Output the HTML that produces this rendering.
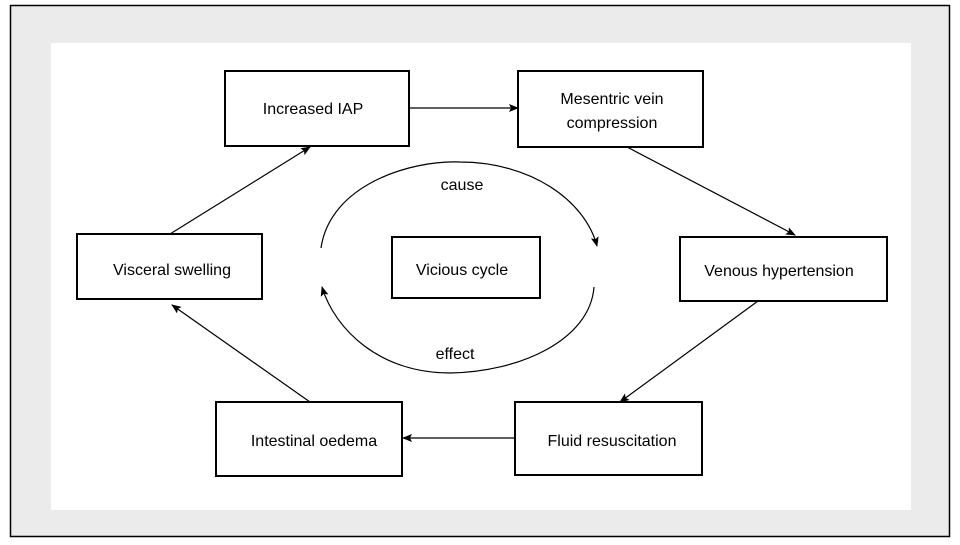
<!DOCTYPE html>
<html><head><style>
html,body{margin:0;padding:0;background:#fff;}
body{width:960px;height:540px;position:relative;overflow:hidden;font-family:"Liberation Sans",sans-serif;}
</style></head><body>
<svg width="960" height="540" viewBox="0 0 960 540" xmlns="http://www.w3.org/2000/svg">
<defs><marker id="a" markerWidth="10" markerHeight="8" refX="9" refY="4" orient="auto" markerUnits="userSpaceOnUse"><path d="M0,0 L10,4 L0,8 L2,4 z" fill="#000"/></marker></defs>
<rect x="10.5" y="5.5" width="939" height="531" fill="#ebebeb" stroke="#000" stroke-width="1.5"/>
<rect x="51" y="43" width="860" height="467" fill="#fff"/>
<g fill="#fff" stroke="#000" stroke-width="2">
<rect x="225" y="71" width="184" height="75"/>
<rect x="518" y="71" width="185" height="76"/>
<rect x="680" y="237" width="207" height="64"/>
<rect x="515" y="402" width="187" height="73"/>
<rect x="216" y="402" width="186" height="74"/>
<rect x="77" y="234" width="185" height="65"/>
<rect x="392" y="237" width="148" height="61"/>
</g>
<g stroke="#000" stroke-width="1.2" fill="none" marker-end="url(#a)">
<line x1="410" y1="108" x2="518" y2="108"/>
<line x1="627" y1="147" x2="795" y2="235"/>
<line x1="758" y1="301" x2="620" y2="402"/>
<line x1="515" y1="438" x2="403" y2="438"/>
<line x1="310" y1="402" x2="172" y2="305"/>
<line x1="170" y1="234" x2="310" y2="147"/>
<path d="M321,248 C330,185 410,160 460,162 C530,162 585,200 597,246"/>
<path d="M594,287 C590,340 520,372 450,373 C380,373 335,330 322,287"/>
</g>
<g font-size="16" fill="#000" text-anchor="middle">
<text x="313" y="114">Increased IAP</text>
<text x="612" y="104">Mesentric vein</text>
<text x="612" y="128">compression</text>
<text x="779" y="276">Venous hypertension</text>
<text x="612" y="446">Fluid resuscitation</text>
<text x="314" y="446">Intestinal oedema</text>
<text x="172" y="275">Visceral swelling</text>
<text x="462" y="275">Vicious cycle</text>
<text x="462" y="190">cause</text>
<text x="455" y="359">effect</text>
</g>
</svg>
</body></html>
